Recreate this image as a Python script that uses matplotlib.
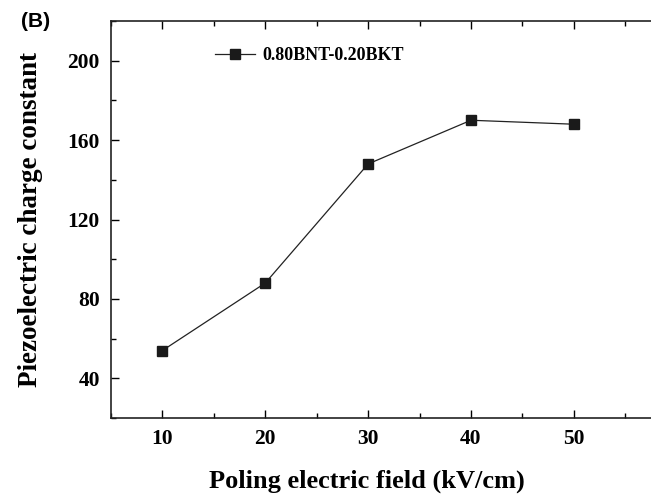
import matplotlib
matplotlib.use('Agg')
import matplotlib.pyplot as plt
from matplotlib.ticker import MultipleLocator

# poling field vs d33
field = [10, 20, 30, 40, 50]
d33 = [54, 88, 148, 170, 168]
label = '0.80BNT-0.20BKT'

plt.rcParams['font.family'] = ['Liberation Serif', 'DejaVu Serif']
plt.rcParams['font.weight'] = 'bold'

fig = plt.figure(figsize=(6.51, 4.94), dpi=100)
ax = fig.add_axes([0.1705, 0.1538, 0.869, 0.8037])

ax.plot(field, d33, color='#222222', lw=0.9, marker='s', ms=7.5,
        mfc='#1a1a1a', mec='#1a1a1a', label=label)

ax.set_xlim(5, 60)
ax.set_ylim(20, 220)
ax.xaxis.set_major_locator(MultipleLocator(10))
ax.xaxis.set_minor_locator(MultipleLocator(5))
ax.yaxis.set_major_locator(MultipleLocator(40))
ax.yaxis.set_minor_locator(MultipleLocator(20))
ax.set_xticks([10, 20, 30, 40, 50])
ax.tick_params(which='both', direction='in', top=True, right=True, width=1.0)
ax.tick_params(which='major', length=6, labelsize=15.5, pad=8)
ax.tick_params(which='minor', length=3.5)
for s in ax.spines.values():
    s.set_linewidth(1.2)
    s.set_color('#222222')

ax.set_xlabel('Poling electric field (kV/cm)', fontsize=19, fontweight='bold', labelpad=14)
ax.set_ylabel('Piezoelectric charge constant', fontsize=19.5, fontweight='bold', labelpad=18)
ax.xaxis.set_label_coords(0.4525, -0.13)

ax.legend(loc='upper left', bbox_to_anchor=(0.155, 0.975), frameon=False,
          fontsize=13, handlelength=2.2, handletextpad=0.4)

fig.text(0.033, 0.957, '(B)', fontsize=15, fontweight='bold', va='center',
         family=['Liberation Sans', 'DejaVu Sans'])

fig.savefig('out.png', dpi=100)
